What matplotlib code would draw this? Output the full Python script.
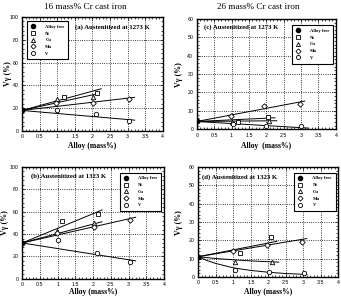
import matplotlib
matplotlib.use("Agg")
import matplotlib.pyplot as plt
from matplotlib.lines import Line2D

plt.rcParams['font.family'] = ['Liberation Serif', 'DejaVu Serif']

# ---- data ----
# (a) 16 Cr, 1273 K
a_free = 18
a_ni_x, a_ni_y = [1.2, 2.14], [29.5, 33.6]
a_cu_x, a_cu_y = [1.0, 2.03], [27.8, 29.5]
a_mn_x, a_mn_y = [0.97, 2.03, 3.04], [24.3, 24.6, 28.0]
a_v_x, a_v_y = [1.0, 2.1, 3.04], [18.4, 14.9, 8.8]
a_fit = [([0, 2.25], [18, 37]), ([0, 2.2], [18, 33]),
         ([0, 3.2], [18, 29.5]), ([0, 3.2], [18, 9.5])]

# (b) 16 Cr, 1323 K
b_free = 32
b_ni_x, b_ni_y = [1.13, 2.13], [51.6, 58.0]
b_cu_x, b_cu_y = [0.97, 2.02], [42.7, 49.6]
b_mn_x, b_mn_y = [0.99, 2.02, 3.04], [40.6, 46.6, 52.5]
b_v_x, b_v_y = [1.0, 2.1, 3.04], [34.6, 23.3, 15.3]
b_fit = [([0, 2.25], [32, 61.5]), ([0, 2.25], [32, 51]),
         ([0, 3.2], [32, 55]), ([0, 3.2], [32, 16])]

# (c) 26 Cr, 1273 K
c_free = 4.2
c_ni_x, c_ni_y = [1.2, 2.04], [3.8, 6.5]
c_cu_x, c_cu_y = [1.0, 2.08], [4.0, 4.5]
c_mn_x, c_mn_y = [0.98, 1.94, 2.98], [7.4, 12.7, 13.6]
c_v_x, c_v_y = [1.05, 2.0, 3.0], [3.0, 1.8, 1.8]
c_fit = [([0, 2.25], [4.2, 6.2]), ([0, 2.3], [4.2, 4.6]),
         ([0, 3.1], [4.2, 15.3]), ([0, 3.2], [4.2, 0.6])]

# (d) 26 Cr, 1323 K
d_free = 11.1
d_ni_x, d_ni_y = [1.19, 2.08], [13.3, 21.7]
d_cu_x, d_cu_y = [1.05, 2.1], [8.0, 8.4]
d_mn_x, d_mn_y = [1.0, 1.97, 2.95], [14.4, 17.3, 18.9]
d_v_x, d_v_y = [1.05, 2.02, 3.03], [3.8, 2.9, 2.4]
d_fit = [([0, 2.25], [11.1, 19.5]),
         ([0, 0.5, 1, 1.5, 2.3], [11.1, 10.1, 9.4, 8.8, 8.1]),
         ([0, 3.1], [11.1, 21]),
         ([0, 0.25, 0.5, 1, 1.5, 2, 2.5, 3.1], [11.1, 9.0, 7.4, 5.0, 3.6, 2.6, 1.9, 1.4])]

legend_names = ['Alloy free', 'Ni', 'Cu', 'Mn', 'V']
x_ticks = [0, 0.5, 1, 1.5, 2, 2.5, 3, 3.5, 4]
x_ticklabels = ['0', '0.5', '1', '1.5', '2', '2.5', '3', '3.5', '4']

fig = plt.figure(figsize=(3.41, 2.97), dpi=100)


def panel(rect, free, ni, cu, mn, v, fits, ymax, ystep, label, leg_anchor, leg_loc,
          txt_xy, xlab, xlab_y, ylab_x):
    ax = fig.add_axes(rect)
    for fx, fy in fits:
        ax.plot(fx, fy, color='black', lw=0.7, zorder=2)
    mk = dict(color='black', ls='none', mfc='white', mec='black', ms=3.2, mew=0.6, zorder=3)
    ax.plot(ni[0], ni[1], marker='s', **mk)
    ax.plot(cu[0], cu[1], marker='^', **mk)
    ax.plot(mn[0], mn[1], marker='D', **dict(mk, ms=2.8))
    ax.plot(v[0], v[1], marker='o', **mk)
    ax.plot([0], [free], marker='o', color='black', ms=3.2, ls='none', zorder=4)

    ax.set_xlim(0, 4)
    ax.set_ylim(0, ymax)
    ax.set_xticks(x_ticks)
    ax.set_xticklabels(x_ticklabels)
    ax.set_yticks(range(0, ymax + 1, ystep))
    ax.set_xticks([i * 0.1 for i in range(41)], minor=True)
    ax.set_yticks(range(0, ymax + 1, ystep // 5 if ystep >= 10 else 1), minor=True)
    ax.tick_params(which='both', direction='in', top=True, right=True, width=0.5)
    ax.tick_params(which='major', length=2.5, labelsize=3.8, pad=2.5)
    ax.tick_params(which='minor', length=1.2)
    for lab in ax.get_xticklabels() + ax.get_yticklabels():
        lab.set_family('Liberation Sans')
    ax.grid(True, which='major', ls=':', color='black', lw=0.6)
    for s in ax.spines.values():
        s.set_linewidth(1.0)
    ax.set_ylabel('Vγ (%)', fontsize=5.7, fontweight='bold', va='center')
    ax.set_xlabel(xlab, fontsize=5.5, fontweight='bold', va='center')
    ax.yaxis.set_label_coords(ylab_x, 0.5)
    ax.xaxis.set_label_coords(0.5, xlab_y)

    handles = [Line2D([], [], marker='o', color='black', ls='none', ms=3)]
    for m in ['s', '^', 'D', 'o']:
        handles.append(Line2D([], [], marker=m, ls='none', mfc='white', mec='black',
                              ms=3 if m != 'D' else 2.6, mew=0.6))
    leg = ax.legend(handles, legend_names, loc=leg_loc, bbox_to_anchor=leg_anchor,
                    prop={'size': 3.3, 'weight': 'bold', 'family': 'Liberation Serif'},
                    fancybox=False, edgecolor='black', framealpha=1,
                    borderpad=0.8, labelspacing=0.55, handletextpad=2.2,
                    handlelength=1.0, borderaxespad=0)
    leg.get_frame().set_linewidth(0.8)
    ax.text(txt_xy[0], txt_xy[1], label, transform=ax.transAxes, fontsize=4.9,
            fontweight='bold', va='center', ha='left')
    return ax


panel([0.0645, 0.559, 0.413, 0.384], a_free, (a_ni_x, a_ni_y), (a_cu_x, a_cu_y),
      (a_mn_x, a_mn_y), (a_v_x, a_v_y), a_fit, 100, 20,
      '(a) Austenitized at 1273 K', (0.035, 0.965), 'upper left', (0.375, 0.915),
      'Alloy (mass%)', -0.13, -0.1)
panel([0.577, 0.565, 0.408, 0.371], c_free, (c_ni_x, c_ni_y), (c_cu_x, c_cu_y),
      (c_mn_x, c_mn_y), (c_v_x, c_v_y), c_fit, 60, 10,
      '(c) Austenitized at 1273 K', (0.98, 0.945), 'upper right', (0.05, 0.93),
      'Alloy  (mass%)', -0.15, -0.125)
panel([0.065, 0.0616, 0.416, 0.376], b_free, (b_ni_x, b_ni_y), (b_cu_x, b_cu_y),
      (b_mn_x, b_mn_y), (b_v_x, b_v_y), b_fit, 100, 20,
      '(b) Austenitized at 1323 K', (0.98, 0.95), 'upper right', (0.06, 0.917),
      'Alloy (mass%)', -0.12, -0.12)
panel([0.5815, 0.0673, 0.4106, 0.370], d_free, (d_ni_x, d_ni_y), (d_cu_x, d_cu_y),
      (d_mn_x, d_mn_y), (d_v_x, d_v_y), d_fit, 60, 10,
      '(d) Austenitized at 1323 K', (0.98, 0.95), 'upper right', (0.03, 0.91),
      'Alloy (mass%)', -0.14, -0.135)

fig.text(0.25, 0.975, '16 mass% Cr cast iron', fontsize=6.6, ha='center', va='center')
fig.text(0.757, 0.975, '26 mass% Cr cast iron', fontsize=6.6, ha='center', va='center')

fig.savefig('out.png', dpi=100)
